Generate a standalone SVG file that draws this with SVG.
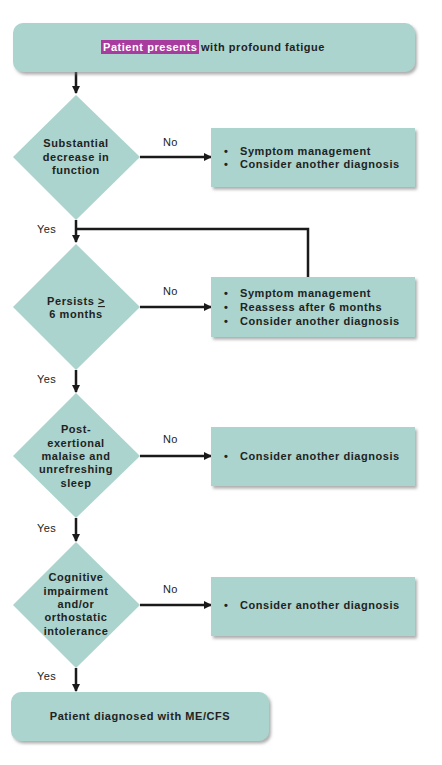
<svg xmlns="http://www.w3.org/2000/svg" width="442" height="765" viewBox="0 0 442 765">
<style>
.box{fill:#aad4cd;}
.t{font-family:"Liberation Sans",Arial,sans-serif;font-size:11px;font-weight:bold;fill:#222;letter-spacing:0.55px;}
.c{text-anchor:middle;}
.lbl{font-family:"Liberation Sans",Arial,sans-serif;font-size:11px;fill:#222;letter-spacing:0.4px;}
.ln{stroke:#1a1a1a;stroke-width:2.5;fill:none;}
</style>
<defs>
<filter id="sh" x="-10%" y="-10%" width="125%" height="140%">
<feDropShadow dx="2" dy="2.5" stdDeviation="1.5" flood-color="#777" flood-opacity="0.6"/>
</filter>
<marker id="ah" markerWidth="8" markerHeight="8" viewBox="0 0 8 8" refX="7" refY="4" orient="auto" markerUnits="userSpaceOnUse">
<path d="M0,0 L8,4 L0,8 z" fill="#1a1a1a"/>
</marker>
</defs>
<rect width="442" height="765" fill="#fff"/>

<g id="connectors">
<line class="ln" x1="76" y1="72" x2="76" y2="93" marker-end="url(#ah)"/>
<line class="ln" x1="140" y1="157" x2="211" y2="157" marker-end="url(#ah)"/>
<line class="ln" x1="76" y1="220" x2="76" y2="242" marker-end="url(#ah)"/>
<polyline class="ln" points="76,229 308,229 308,277"/>
<line class="ln" x1="140" y1="307" x2="211" y2="307" marker-end="url(#ah)"/>
<line class="ln" x1="76" y1="370" x2="76" y2="392" marker-end="url(#ah)"/>
<line class="ln" x1="140" y1="456" x2="211" y2="456" marker-end="url(#ah)"/>
<line class="ln" x1="76" y1="518" x2="76" y2="541" marker-end="url(#ah)"/>
<line class="ln" x1="140" y1="605" x2="211" y2="605" marker-end="url(#ah)"/>
<line class="ln" x1="76" y1="668" x2="76" y2="691" marker-end="url(#ah)"/>
<text class="lbl" x="163" y="146">No</text>
<text class="lbl" x="163" y="295">No</text>
<text class="lbl" x="163" y="443">No</text>
<text class="lbl" x="163" y="593">No</text>
<text class="lbl" x="37" y="233">Yes</text>
<text class="lbl" x="37" y="383">Yes</text>
<text class="lbl" x="37" y="532">Yes</text>
<text class="lbl" x="37" y="680">Yes</text>
</g>

<g id="start">
<rect class="box" x="13" y="23" width="402" height="49" rx="10" filter="url(#sh)"/>
<rect x="101" y="40" width="98" height="14" fill="#a83c9e"/>
<text class="t" x="103" y="51"><tspan fill="#fff">Patient presents</tspan> with profound fatigue</text>
</g>

<g id="d1">
<polygon class="box" points="76,95 140,157 76,220 13,157"/>
<text class="t c" x="76" y="147">Substantial</text>
<text class="t c" x="76" y="161">decrease in</text>
<text class="t c" x="76" y="174">function</text>
</g>
<g id="b1">
<rect class="box" x="211" y="128" width="204" height="59" filter="url(#sh)"/>
<text class="t" x="224" y="155">•</text><text class="t" x="240" y="155">Symptom management</text>
<text class="t" x="224" y="168">•</text><text class="t" x="240" y="168">Consider another diagnosis</text>
</g>

<g id="d2">
<polygon class="box" points="76,244 140,307 76,370 13,307"/>
<text class="t c" x="76" y="305">Persists <tspan text-decoration="underline">&gt;</tspan></text>
<text class="t c" x="76" y="318">6 months</text>
</g>
<g id="b2">
<rect class="box" x="211" y="277" width="204" height="60" filter="url(#sh)"/>
<text class="t" x="224" y="297">•</text><text class="t" x="240" y="297">Symptom management</text>
<text class="t" x="224" y="311">•</text><text class="t" x="240" y="311">Reassess after 6 months</text>
<text class="t" x="224" y="325">•</text><text class="t" x="240" y="325">Consider another diagnosis</text>
</g>

<g id="d3">
<polygon class="box" points="76,393 140,456 76,518 13,456"/>
<text class="t c" x="76" y="433">Post-</text>
<text class="t c" x="76" y="447">exertional</text>
<text class="t c" x="76" y="460">malaise and</text>
<text class="t c" x="76" y="473">unrefreshing</text>
<text class="t c" x="76" y="487">sleep</text>
</g>
<g id="b3">
<rect class="box" x="211" y="427" width="204" height="59" filter="url(#sh)"/>
<text class="t" x="224" y="460">•</text><text class="t" x="240" y="460">Consider another diagnosis</text>
</g>

<g id="d4">
<polygon class="box" points="76,542 140,605 76,668 13,605"/>
<text class="t c" x="76" y="581">Cognitive</text>
<text class="t c" x="76" y="595">impairment</text>
<text class="t c" x="76" y="608">and/or</text>
<text class="t c" x="76" y="621">orthostatic</text>
<text class="t c" x="76" y="635">intolerance</text>
</g>
<g id="b4">
<rect class="box" x="211" y="577" width="204" height="59" filter="url(#sh)"/>
<text class="t" x="224" y="609">•</text><text class="t" x="240" y="609">Consider another diagnosis</text>
</g>

<g id="end">
<rect class="box" x="11" y="692" width="258" height="49" rx="10" filter="url(#sh)"/>
<text class="t c" x="140" y="720">Patient diagnosed with ME/CFS</text>
</g>
</svg>
